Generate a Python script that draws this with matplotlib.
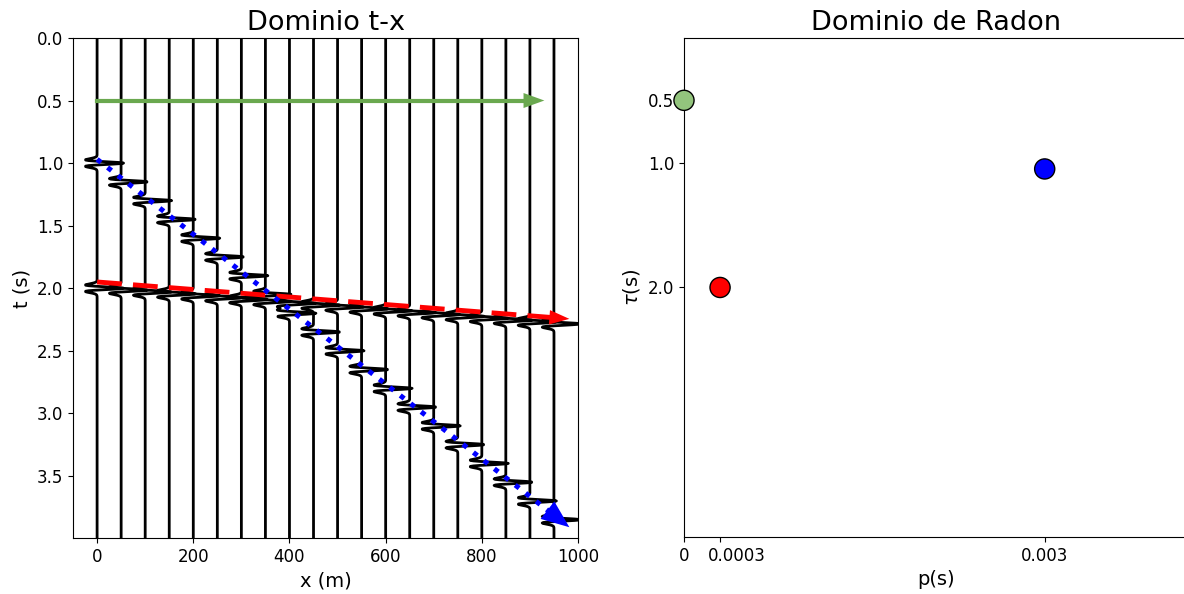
import numpy as np
import matplotlib
matplotlib.use("Agg")
import matplotlib.pyplot as plt
from matplotlib.transforms import ScaledTranslation

# Receiver offsets (m) and time axis (s)
offsets = np.arange(0, 1000, 50)
t = np.arange(0, 4.0, 0.004)

# Events in the gather: intercept time (s) and slowness (s/m)
event_tau = [1.0, 2.0]
event_p = [0.003, 0.0003]

# Points in the Radon domain: slowness p, intercept tau, colour
radon_p = [0.0, 0.0003, 0.003]
radon_tau = [0.5, 2.0, 1.05]
radon_colors = ["#93c47d", "red", "blue"]
p_labels = ["0", "0.0003", "0.003"]

# Guide arrows over the gather: (x0, t0) -> (x1, t1)
green_arrow = [(0, 0.5), (930, 0.5)]
red_arrow = [(0, 1.95), (982, 2.245)]
blue_arrow = [(0, 0.97), (982, 3.91)]

freq = 15.0
amp = 55.0


def ricker(tt, f):
    a = (np.pi * f * tt) ** 2
    return (1 - 2 * a) * np.exp(-a)


fig = plt.figure(figsize=(11.84, 5.94), dpi=100)
ax1 = fig.add_axes([0.0617, 0.0943, 0.4265, 0.8418])
ax2 = fig.add_axes([0.5777, 0.0960, 0.4265, 0.8401])

# --- t-x gather ---
for x in offsets:
    trace = np.zeros_like(t)
    for tau, p in zip(event_tau, event_p):
        trace += ricker(t - (tau + p * x), freq)
    ax1.plot(x + amp * trace, t, color="black", lw=2)


def draw_arrow(ax, pts, color, lw, head_len, head_w, **line_kw):
    (x0, y0), (x1, y1) = pts
    # line body up to the arrow head, then the head itself
    frac = 0.97
    ax.plot([x0, x0 + frac * (x1 - x0)], [y0, y0 + frac * (y1 - y0)],
            color=color, lw=lw, zorder=4, **line_kw)
    xb = x1 - 0.02 * (x1 - x0)
    yb = y1 - 0.02 * (y1 - y0)
    ax.annotate("", xy=(x1, y1), xytext=(xb, yb),
                arrowprops=dict(arrowstyle=f"-|>,head_length={head_len},head_width={head_w}",
                                color=color, lw=0, shrinkA=0, shrinkB=0,
                                mutation_scale=20),
                zorder=5)


draw_arrow(ax1, green_arrow, "#6aa84f", 3, 0.75, 0.27)
draw_arrow(ax1, red_arrow, "red", 3.5, 0.72, 0.26, dashes=(5.1, 2.3))
draw_arrow(ax1, blue_arrow, "blue", 3.6, 1.0, 0.4, linestyle=":")

ax1.set_xlim(-50, 1000)
ax1.set_ylim(t[-1], 0)
ax1.set_title("Dominio t-x", fontsize=19.5)
ax1.set_xlabel("x (m)", fontsize=14)
ax1.set_ylabel("t (s)", fontsize=14)
ax1.tick_params(labelsize=12)

# --- Radon domain ---
ax2.scatter(radon_p, radon_tau, s=210, c=radon_colors, edgecolors="black",
            linewidths=1, zorder=5, clip_on=False)
ax2.set_xlim(0, 0.0042)
ax2.set_ylim(4.0, 0)
ax2.set_xticks(radon_p)
ax2.set_xticklabels(p_labels)
ax2.set_yticks([0.5, 1.0, 2.0])
ax2.set_title("Dominio de Radon", fontsize=19.5)
ax2.set_xlabel("p(s)", fontsize=14)
ax2.set_ylabel(r"$\tau$(s)", fontsize=14)
ax2.tick_params(labelsize=12)

# nudge the crowded 0.0003 label away from the 0 label
lbl = ax2.get_xticklabels()[1]
lbl.set_transform(lbl.get_transform() + ScaledTranslation(12 / 72, 0, fig.dpi_scale_trans))

fig.savefig("out.png", dpi=100)
